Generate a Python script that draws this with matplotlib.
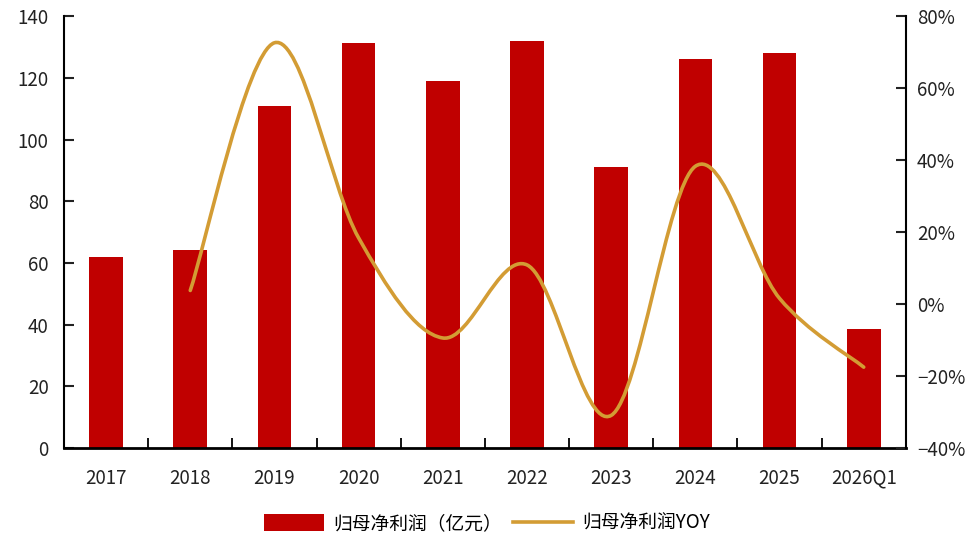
import numpy as np
import matplotlib
matplotlib.use("Agg")
import matplotlib.pyplot as plt
from matplotlib.path import Path
from matplotlib.patches import PathPatch, Patch
from matplotlib.lines import Line2D
from matplotlib.ticker import FixedLocator, FuncFormatter

plt.rcParams['font.family'] = ['Noto Sans CJK SC', 'DejaVu Sans']

# ─── Data ─────────────────────────────────────────────────────────────────────

CATEGORIES = ['2017', '2018', '2019', '2020', '2021', '2022', '2023', '2024', '2025', '2026Q1']
PROFIT = [62.0, 64.2, 110.8, 131.2, 118.9, 131.9, 91.1, 126.0, 128.0, 38.6]
YOY = [None, 3.8, 72.6, 18.4, -9.4, 10.9, -30.9, 38.3, 1.6, -17.5]

BAR_COLOR = '#C00000'
LINE_COLOR = '#D39C34'
FS = 13.5


def smooth_path(xs, ys, tension=1 / 6):
    """Catmull-Rom style Bezier path through the points (Excel 'smoothed line')."""
    pts = np.column_stack([xs, ys])
    verts = [pts[0]]
    codes = [Path.MOVETO]
    n = len(pts)
    for i in range(n - 1):
        p0 = pts[i - 1] if i > 0 else pts[i]
        p1 = pts[i]
        p2 = pts[i + 1]
        p3 = pts[i + 2] if i + 2 < n else pts[i + 1]
        c1 = p1 + (p2 - p0) * tension
        c2 = p2 - (p3 - p1) * tension
        verts += [c1, c2, p2]
        codes += [Path.CURVE4] * 3
    return Path(verts, codes)


fig, ax = plt.subplots(figsize=(9.74, 5.38), dpi=100)
fig.subplots_adjust(left=0.0657, right=0.930, top=0.970, bottom=0.167)

x = np.arange(len(CATEGORIES))
ax.bar(x, PROFIT, width=0.40, color=BAR_COLOR, zorder=2)
ax.set_xlim(-0.5, len(CATEGORIES) - 0.5)
ax.set_ylim(0, 140)
ax.set_yticks(range(0, 141, 20))

ax.set_xticks(x)
ax.set_xticklabels(CATEGORIES)
ax.xaxis.set_minor_locator(FixedLocator(np.arange(-0.5, len(CATEGORIES), 1.0)))
ax.tick_params(axis='x', which='major', length=0, pad=14, labelsize=FS, colors='#222222')
ax.tick_params(axis='x', which='minor', direction='in', length=7, width=1.3)
ax.tick_params(axis='y', direction='in', length=7, width=1.5, labelsize=FS, pad=11, colors='#222222')
ax.spines['top'].set_visible(False)
ax.spines['right'].set_visible(False)
ax.spines['left'].set_linewidth(1.5)
ax.spines['bottom'].set_linewidth(2.0)

# ─── YOY line on secondary axis ──────────────────────────────────────────────

ax2 = ax.twinx()
ax2.set_ylim(-40, 80)
ax2.set_yticks(range(-40, 81, 20))
ax2.yaxis.set_major_formatter(FuncFormatter(lambda v, p: f"{int(v)}%".replace('-', '\u2212')))
ax2.tick_params(axis='y', direction='in', length=7, width=1.5, labelsize=FS, pad=8, colors='#222222')
for s in ['top', 'left', 'bottom']:
    ax2.spines[s].set_visible(False)
ax2.spines['right'].set_linewidth(1.5)

yx = [i for i, v in enumerate(YOY) if v is not None]
yy = [v for v in YOY if v is not None]
ax2.add_patch(PathPatch(smooth_path(yx, yy), facecolor='none', edgecolor=LINE_COLOR,
                        linewidth=2.6, capstyle='round', joinstyle='round', zorder=3))

# ─── Legend ──────────────────────────────────────────────────────────────────

handles = [Patch(facecolor=BAR_COLOR, edgecolor='none'),
           Line2D([0], [0], color=LINE_COLOR, linewidth=2.6)]
fig.legend(handles, ['归母净利润（亿元）', '归母净利润YOY'], loc='center',
           bbox_to_anchor=(0.5, 0.027), ncol=2, frameon=False, fontsize=FS,
           handlelength=3.2, handleheight=1.0, columnspacing=0.6, handletextpad=0.5)

fig.savefig('out.png', dpi=100)
